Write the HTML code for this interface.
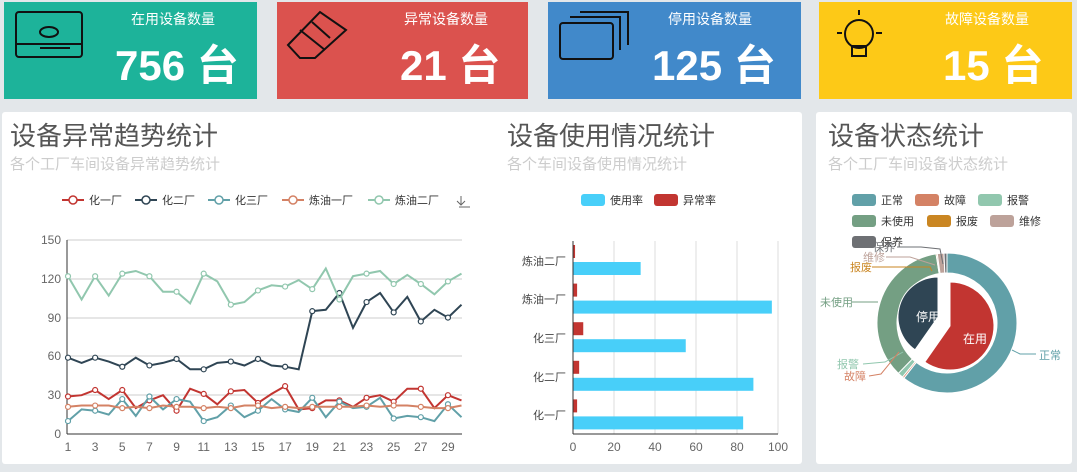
<!DOCTYPE html>
<html><head><meta charset="utf-8"><style>
body{margin:0;width:1077px;height:467px;background:#e3e7ea;overflow:hidden;font-family:"Liberation Sans","Noto Sans CJK SC",sans-serif}
svg text{font-family:"Liberation Sans","Noto Sans CJK SC",sans-serif}
</style></head><body>
<svg id="s" width="1077" height="467" xmlns="http://www.w3.org/2000/svg">
<rect x="4" y="2" width="253" height="97" fill="#1db39a"/>
<rect x="277" y="2" width="251" height="97" fill="#db524e"/>
<rect x="548" y="2" width="253" height="97" fill="#4189ca"/>
<rect x="819" y="2" width="253" height="97" fill="#fdc917"/>
<g fill="#fff">
<text x="131" y="24" font-size="14">在用设备数量</text>
<text x="404" y="24" font-size="14">异常设备数量</text>
<text x="668" y="24" font-size="14">停用设备数量</text>
<text x="945" y="24" font-size="14">故障设备数量</text>
<g font-size="42" font-weight="bold">
<text x="115" y="80">756 台</text>
<text x="400" y="80">21 台</text>
<text x="652" y="80">125 台</text>
<text x="943" y="80">15 台</text>
</g></g>
<g fill="none" stroke="#111" stroke-width="2">
<rect x="16" y="12" width="66" height="45" rx="3"/><line x1="16" y1="44" x2="82" y2="44"/><ellipse cx="49" cy="32" rx="9" ry="5"/><line x1="40" y1="48" x2="70" y2="48"/>
<path d="M288 45 L320 12 L346 30 L315 58 L300 58 Z"/><line x1="300" y1="30" x2="325" y2="50"/><line x1="312" y1="22" x2="330" y2="38"/>
<rect x="560" y="23" width="53" height="36" rx="3"/><path d="M570 17 H620 V50"/><path d="M580 12 H628 V45"/>
<circle cx="859" cy="34" r="14"/><path d="M852 46 h14 v10 h-14z"/><line x1="859" y1="15" x2="859" y2="10"/><line x1="837" y1="33" x2="842" y2="33"/><line x1="876" y1="33" x2="882" y2="33"/>
</g>
<rect x="2" y="112" width="800" height="352" fill="#fff" rx="3"/>
<rect x="816" y="112" width="256" height="352" fill="#fff" rx="3"/>
<g fill="#555" font-size="26"><text x="10" y="145">设备异常趋势统计</text><text x="507" y="145">设备使用情况统计</text><text x="828" y="145">设备状态统计</text></g>
<g fill="#ccc" font-size="15"><text x="10" y="169">各个工厂车间设备异常趋势统计</text><text x="507" y="169">各个车间设备使用情况统计</text><text x="828" y="169">各个工厂车间设备状态统计</text></g>
<g font-size="11" fill="#333" id="lleg"></g>
<path d="M461 196 v9 m-4 -4 l4 4 l4 -4 M459 207 h11" stroke="#666" fill="none"/>
<g stroke="#ccc"><line x1="67" y1="240" x2="462" y2="240"/><line x1="67" y1="279" x2="462" y2="279"/><line x1="67" y1="318" x2="462" y2="318"/><line x1="67" y1="356" x2="462" y2="356"/><line x1="67" y1="395" x2="462" y2="395"/></g>
<g stroke="#333"><line x1="67" y1="240" x2="67" y2="434"/><line x1="67" y1="434" x2="462" y2="434"/></g>
<g fill="#666" font-size="12" text-anchor="end"><text x="61" y="244">150</text><text x="61" y="283">120</text><text x="61" y="322">90</text><text x="61" y="360">60</text><text x="61" y="399">30</text><text x="61" y="438">0</text></g>
<g fill="#666" font-size="12" text-anchor="middle" id="xl"></g>
<g id="lines"></g>
<rect x="581" y="194" width="24" height="12" rx="3" fill="#48cff9"/><text x="610" y="204" font-size="11" fill="#333">使用率</text>
<rect x="654" y="194" width="24" height="12" rx="3" fill="#c23531"/><text x="683" y="204" font-size="11" fill="#333">异常率</text>
<g stroke="#ddd"><line x1="614" y1="241" x2="614" y2="434"/><line x1="655" y1="241" x2="655" y2="434"/><line x1="696" y1="241" x2="696" y2="434"/><line x1="737" y1="241" x2="737" y2="434"/><line x1="778" y1="241" x2="778" y2="434"/></g>
<g id="bars"></g>
<g stroke="#333"><line x1="573" y1="241" x2="573" y2="434"/><line x1="573" y1="434" x2="778" y2="434"/></g>
<g fill="#666" font-size="12" text-anchor="middle"><text x="573" y="451">0</text><text x="614" y="451">20</text><text x="655" y="451">40</text><text x="696" y="451">60</text><text x="737" y="451">80</text><text x="778" y="451">100</text></g>
<g fill="#444" font-size="11" text-anchor="end"><text x="566" y="265">炼油二厂</text><text x="566" y="303">炼油一厂</text><text x="566" y="342">化三厂</text><text x="566" y="381">化二厂</text><text x="566" y="419">化一厂</text></g>
<g font-size="11" fill="#333">
<rect x="852" y="194" width="24" height="12" rx="3" fill="#61a0a8"/><text x="881" y="204">正常</text>
<rect x="915" y="194" width="24" height="12" rx="3" fill="#d48265"/><text x="944" y="204">故障</text>
<rect x="978" y="194" width="24" height="12" rx="3" fill="#91c7ae"/><text x="1007" y="204">报警</text>
<rect x="852" y="215" width="24" height="12" rx="3" fill="#749f83"/><text x="881" y="225">未使用</text>
<rect x="927" y="215" width="24" height="12" rx="3" fill="#ca8622"/><text x="956" y="225">报废</text>
<rect x="990" y="215" width="24" height="12" rx="3" fill="#bda29a"/><text x="1019" y="225">维修</text>
<rect x="852" y="236" width="24" height="12" rx="3" fill="#6e7074"/><text x="881" y="246">保养</text>
</g>
<g id="pie"></g>
<g font-size="11">
<text x="1039" y="359" fill="#61a0a8">正常</text><path d="M1012 350 l8 4 h16" stroke="#61a0a8" fill="none"/>
<text x="820" y="306" fill="#749f83">未使用</text><path d="M852 302 h26" stroke="#749f83" fill="none"/>
<text x="837" y="368" fill="#91c7ae">报警</text><path d="M863 364 l22 -2 l18 -10" stroke="#91c7ae" fill="none"/>
<text x="844" y="380" fill="#d48265">故障</text><path d="M869 376 l12 -2 l18 -22" stroke="#d48265" fill="none"/>
<text x="850" y="271" fill="#ca8622">报废</text><path d="M872 267 h58 l2 4" stroke="#ca8622" fill="none"/>
<text x="863" y="261" fill="#bda29a">维修</text><path d="M886 257 h24 l25 8" stroke="#bda29a" fill="none"/>
<text x="873" y="251" fill="#6e7074">保养</text><path d="M897 247 h24 l19 2 l3 15" stroke="#6e7074" fill="none"/>
</g>
</svg>
<script>
var NS="http://www.w3.org/2000/svg";
function el(p,t,a,txt){var e=document.createElementNS(NS,t);for(var k in a)e.setAttribute(k,a[k]);if(txt)e.textContent=txt;document.getElementById(p).appendChild(e);return e;}
var X=function(i){return 68+i*13.57},Y=function(v){return 434-v*1.2933};
for(var i=1;i<=29;i+=2)el('xl','text',{x:X(i-1),y:451},String(i));
var series=[
["化一厂","#c23531",[29,30,34,27,34,20,26,30,18,35,31,23,33,34,24,31,37,19,20,26,26,21,28,30,25,35,35,20,30,26]],
["化二厂","#2f4554",[59,55,59,56,52,59,53,55,58,50,50,55,56,53,58,53,52,50,95,96,109,82,102,109,94,106,87,96,90,100]],
["化三厂","#61a0a8",[10,19,18,15,27,14,29,19,27,25,10,13,22,13,18,27,19,17,28,13,25,20,21,28,12,14,13,10,23,13]],
["炼油一厂","#d48265",[21,22,22,22,20,21,20,22,21,21,20,21,20,22,22,20,21,20,21,21,21,21,22,21,22,22,21,20,20,22]],
["炼油二厂","#91c7ae",[122,104,122,107,124,126,122,110,110,101,124,118,100,102,111,115,114,119,112,128,104,122,124,126,116,123,116,108,118,124]]];
var lx=[62,135,208,282,368];
series.forEach(function(sr,k){
 var pts=sr[2].map(function(v,i){return X(i).toFixed(1)+","+Y(v).toFixed(1)}).join(" ");
 el('lines','polyline',{points:pts,fill:"none",stroke:sr[1],"stroke-width":2});
 sr[2].forEach(function(v,i){if(i%2==0)el('lines','circle',{cx:X(i),cy:Y(v),r:2.5,fill:"#fff",stroke:sr[1],"stroke-width":1.2});});
 el('lleg','line',{x1:lx[k],y1:200,x2:lx[k]+22,y2:200,stroke:sr[1],"stroke-width":2});
 el('lleg','circle',{cx:lx[k]+11,cy:200,r:4,fill:"#fff",stroke:sr[1],"stroke-width":1.5});
 el('lleg','text',{x:lx[k]+27,y:204},sr[0]);
});
var blue=[33,97,55,88,83],red=[1,2,5,3,2];
for(var i=0;i<5;i++){var y0=241+i*38.6;
 el('bars','rect',{x:573,y:y0+4,width:red[i]*2.05,height:13,fill:"#c23531"});
 el('bars','rect',{x:573,y:y0+21,width:blue[i]*2.05,height:13,fill:"#48cff9"});}
var cx=947,cy=323;
function P(a,r,dx,dy){a=(a-90)*Math.PI/180;return[(cx+(dx||0)+r*Math.cos(a)).toFixed(2),(cy+(dy||0)+r*Math.sin(a)).toFixed(2)]}
function arc(a0,a1,r0,r1,c,dx,dy){var lg=(a1-a0)>180?1:0,p1=P(a0,r1,dx,dy),p2=P(a1,r1,dx,dy),p3=P(a1,r0,dx,dy),p4=P(a0,r0,dx,dy);
 var d="M"+p1+" A"+r1+","+r1+" 0 "+lg+" 1 "+p2+(r0>0?" L"+p3+" A"+r0+","+r0+" 0 "+lg+" 0 "+p4:" L"+(cx+(dx||0))+","+(cy+(dy||0)))+" Z";
 el('pie','path',{d:d,fill:c,stroke:"#fff","stroke-width":1});}
[[0,218,"#61a0a8"],[218,219.5,"#d48265"],[219.5,224,"#91c7ae"],[224,351,"#749f83"],[351,352,"#ca8622"],[352,357.5,"#bda29a"],[357.5,360,"#6e7074"]].forEach(function(a){arc(a[0],a[1],50,70,a[2]);});
arc(0,215,0,44,"#c23531",3,3);
arc(215,360,0,40,"#2f4554",-9,-6);
el('pie','text',{x:975,y:343,fill:"#fff","font-size":12,"text-anchor":"middle"},"在用");
el('pie','text',{x:928,y:321,fill:"#fff","font-size":12,"text-anchor":"middle"},"停用");
</script>
</body></html>
